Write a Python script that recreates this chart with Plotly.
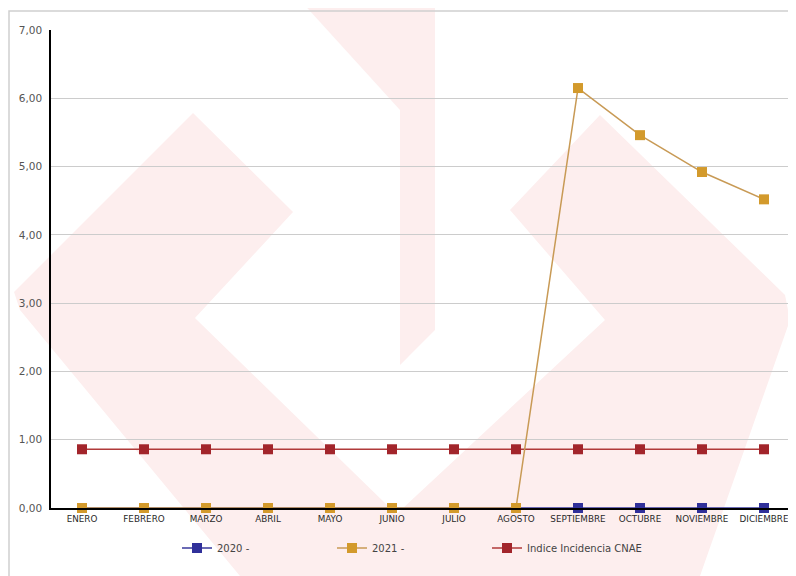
import plotly.graph_objects as go

months = ["ENERO", "FEBRERO", "MARZO", "ABRIL", "MAYO", "JUNIO", "JULIO",
          "AGOSTO", "SEPTIEMBRE", "OCTUBRE", "NOVIEMBRE", "DICIEMBRE"]
v2020 = [0, 0, 0, 0, 0, 0, 0, 0, 0, 0, 0, 0]
v2021 = [0, 0, 0, 0, 0, 0, 0, 0, 6.15, 5.46, 4.92, 4.52]
cnae = [0.86] * 12

# page is rendered with an 8px body margin
OFF = 8
W, H = 788, 568
L, R, T, B = 43, 1, 22, 68
PW, PH = W - L - R, H - T - B


def px(x, y):
    """page pixel -> paper coords"""
    return (x - OFF - L) / PW, (H - B + OFF - y) / PH


def path(points):
    pts = [px(x, y) for x, y in points]
    return "M " + " L ".join(f"{a:.4f},{b:.4f}" for a, b in pts) + " Z"


wm_color = "#fdeeee"
watermark = [
    [(300, 0), (435, 0), (435, 330), (400, 365), (400, 110)],
    [(193, 113), (293, 212), (195, 318), (460, 576), (240, 576), (20, 310), (14, 292)],
    [(510, 210), (600, 115), (785, 295), (790, 320), (700, 576), (330, 576), (605, 320)],
]

fig = go.Figure()

fig.add_trace(go.Scatter(
    x=months, y=v2020, name="2020 -", mode="lines+markers",
    line=dict(color="#3a3a9c", width=1.5),
    marker=dict(symbol="square", size=10, color="#30309a"),
    legendrank=1, cliponaxis=False,
))
fig.add_trace(go.Scatter(
    x=months, y=cnae, name="Indice Incidencia CNAE", mode="lines+markers",
    line=dict(color="#b03a3a", width=1.5),
    marker=dict(symbol="square", size=10, color="#a2252b"),
    legendrank=3, cliponaxis=False,
))
fig.add_trace(go.Scatter(
    x=months, y=v2021, name="2021 -", mode="lines+markers",
    line=dict(color="#c89a55", width=1.5),
    marker=dict(symbol="square", size=10, color="#d39a2c"),
    legendrank=2, cliponaxis=False,
))

shapes = []
for poly in watermark:
    shapes.append(dict(type="path", xref="paper", yref="paper", path=path(poly),
                       fillcolor=wm_color, line=dict(width=0), layer="below"))
x0, y0 = px(9, 11)
x1, y1 = px(805, 590)
shapes.append(dict(type="rect", xref="paper", yref="paper", x0=x0, y0=y1, x1=x1, y1=y0,
                   line=dict(color="#cfcfcf", width=1.5), fillcolor="rgba(0,0,0,0)",
                   layer="below"))

lx, ly = px(177, 548)
fig.update_layout(
    width=W, height=H,
    margin=dict(l=L, r=R, t=T, b=B),
    paper_bgcolor="white",
    plot_bgcolor="rgba(0,0,0,0)",
    separators=",.",
    font=dict(family="DejaVu Sans", color="#444444"),
    shapes=shapes,
    showlegend=True,
    legend=dict(orientation="h", x=lx, y=ly, xanchor="left", yanchor="middle",
                entrywidth=110, entrywidthmode="pixels",
                font=dict(size=10, color="#444444"),
                bgcolor="rgba(0,0,0,0)", traceorder="normal"),
    xaxis=dict(range=[-0.5, 11.5], showgrid=False, showline=True,
               linecolor="black", linewidth=1.5, ticks="",
               ticklabelstandoff=2,
               tickfont=dict(size=8.8, color="#2a2a2a"), tickangle=0,
               fixedrange=True),
    yaxis=dict(range=[0, 7], dtick=1, tickformat=".2f", showgrid=True,
               gridcolor="#cccccc", gridwidth=1, zeroline=False,
               showline=True, linecolor="black", linewidth=1.5, ticks="",
               ticklabelstandoff=5,
               tickfont=dict(size=10.5, color="#555555"), fixedrange=True),
)

fig.write_html("out.html")
